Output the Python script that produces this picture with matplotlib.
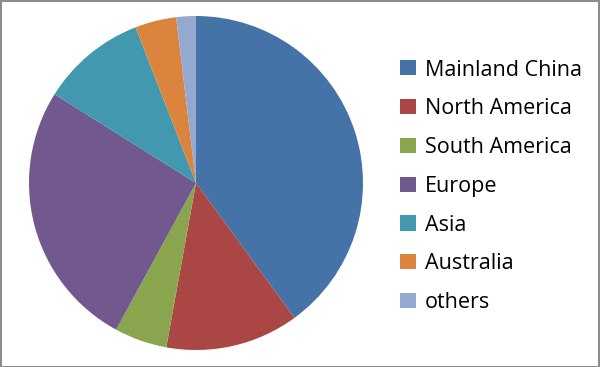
import matplotlib
matplotlib.use("Agg")
import matplotlib.pyplot as plt
from matplotlib.patches import Rectangle

labels = ["Mainland China", "North America", "South America", "Europe", "Asia", "Australia", "others"]
values = [40.0, 12.9, 5.1, 26.0, 10.2, 4.0, 1.9]
colors = ["#4572A7", "#AA4643", "#89A54E", "#71588F", "#4198AF", "#DB843D", "#93A9CF"]

W, H = 600, 367
fig = plt.figure(figsize=(W/100, H/100), dpi=100)
cx, cy, r = 196, 183, 167
ax = fig.add_axes([(cx - r)/W, (H - cy - r)/H, 2*r/W, 2*r/H])
wedges, _ = ax.pie(values, colors=colors, startangle=90, counterclock=False,
                   radius=1, wedgeprops=dict(linewidth=0))
ax.set_xlim(-1, 1)
ax.set_ylim(-1, 1)
ax.set_aspect("auto")
ax.axis("off")

fs = 15.5
fpx = fs * 100 / 72
leg = fig.legend(wedges, labels, loc="upper left",
                 bbox_to_anchor=(400/W, 1 - 59.5/H),
                 frameon=False, prop=dict(family="Open Sans", size=fs),
                 handlelength=16/fpx, handleheight=15/fpx, handletextpad=9/fpx,
                 labelspacing=0.825, borderaxespad=0, borderpad=0)

fig.patches.append(Rectangle((0.5/W, 0.5/H), 1 - 1.5/W, 1 - 1.5/H, transform=fig.transFigure,
                             fill=False, edgecolor="#8c8c8c", linewidth=1.5))
fig.savefig("out.png", dpi=100)
